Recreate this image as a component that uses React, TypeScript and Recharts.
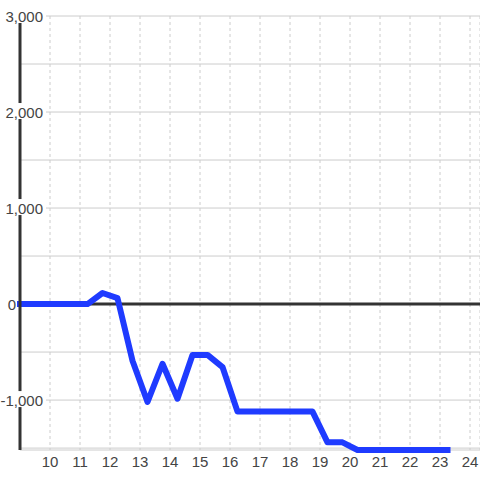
import { LineChart, Line, XAxis, YAxis, CartesianGrid, ReferenceLine } from 'recharts';

// hours (quarter past / quarter to) and running balance
const hours = [
  9, 9.25, 9.75, 10.25, 10.75, 11.25, 11.75, 12.25, 12.75, 13.25,
  13.75, 14.25, 14.75, 15.25, 15.75, 16.25, 16.75, 17.25, 17.75, 18.25,
  18.75, 19.25, 19.75, 20.25, 20.75, 21.25, 21.75, 22.25, 22.75, 23.25,
];
const balance = [
  0, 0, 0, 0, 0, 0, 115, 62, -590, -1020,
  -622, -986, -530, -530, -656, -1120, -1120, -1120, -1120, -1120,
  -1120, -1440, -1440, -1520, -1520, -1520, -1520, -1520, -1520, -1520,
];
const xTicks = [10, 11, 12, 13, 14, 15, 16, 17, 18, 19, 20, 21, 22, 23, 24];
const yTicks = [-1500, -1000, -500, 0, 500, 1000, 1500, 2000, 2500, 3000];

const data = hours.map((h, i) => ({ hour: h, value: balance[i] }));

const font = '"Liberation Sans", Arial, sans-serif';

const YTick = (props: any) => {
  const { y, payload } = props;
  const v = payload.value as number;
  if (v % 1000 !== 0) return null;
  if (v === 0) {
    return (
      <text x={16} y={y} dy={6} textAnchor="end" style={{ fontSize: 15, fill: '#444', fontFamily: font }}>
        0
      </text>
    );
  }
  return (
    <g>
      <rect x={0} y={y - 9} width={46} height={16} fill="#fff" />
      <text x={43} y={y} dy={6} textAnchor="end" style={{ fontSize: 15, fill: '#444', fontFamily: font }}>
        {v.toLocaleString('en-US')}
      </text>
    </g>
  );
};

const App = () => {
  return (
    <div style={{ position: 'absolute', left: 0, top: 0, background: '#fff' }}>
      <LineChart width={480} height={480} data={data} margin={{ top: 16, right: 0, bottom: 0, left: 0 }}>
        <CartesianGrid vertical={false} stroke="#ccc" />
        <CartesianGrid horizontal={false} stroke="#ccc" strokeDasharray="3 3" />
        <XAxis
          dataKey="hour"
          type="number"
          domain={[9, 24.333]}
          ticks={xTicks}
          axisLine={false}
          tickLine={false}
          tickSize={0}
          tickMargin={6}
          height={30}
          tick={{ fontSize: 15, fill: '#444', fontFamily: font }}
        />
        <YAxis
          type="number"
          domain={[-1520, 3000]}
          ticks={yTicks}
          width={20}
          axisLine={{ stroke: '#333', strokeWidth: 3 }}
          tickLine={false}
          tick={<YTick />}
          interval={0}
        />
        <ReferenceLine y={0} stroke="#333" strokeWidth={3} />
        <Line
          type="linear"
          dataKey="value"
          stroke="#1f3bff"
          strokeWidth={6}
          strokeLinecap="square"
          strokeLinejoin="round"
          dot={false}
          activeDot={false}
          isAnimationActive={false}
        />
      </LineChart>
    </div>
  );
};

export default App;
